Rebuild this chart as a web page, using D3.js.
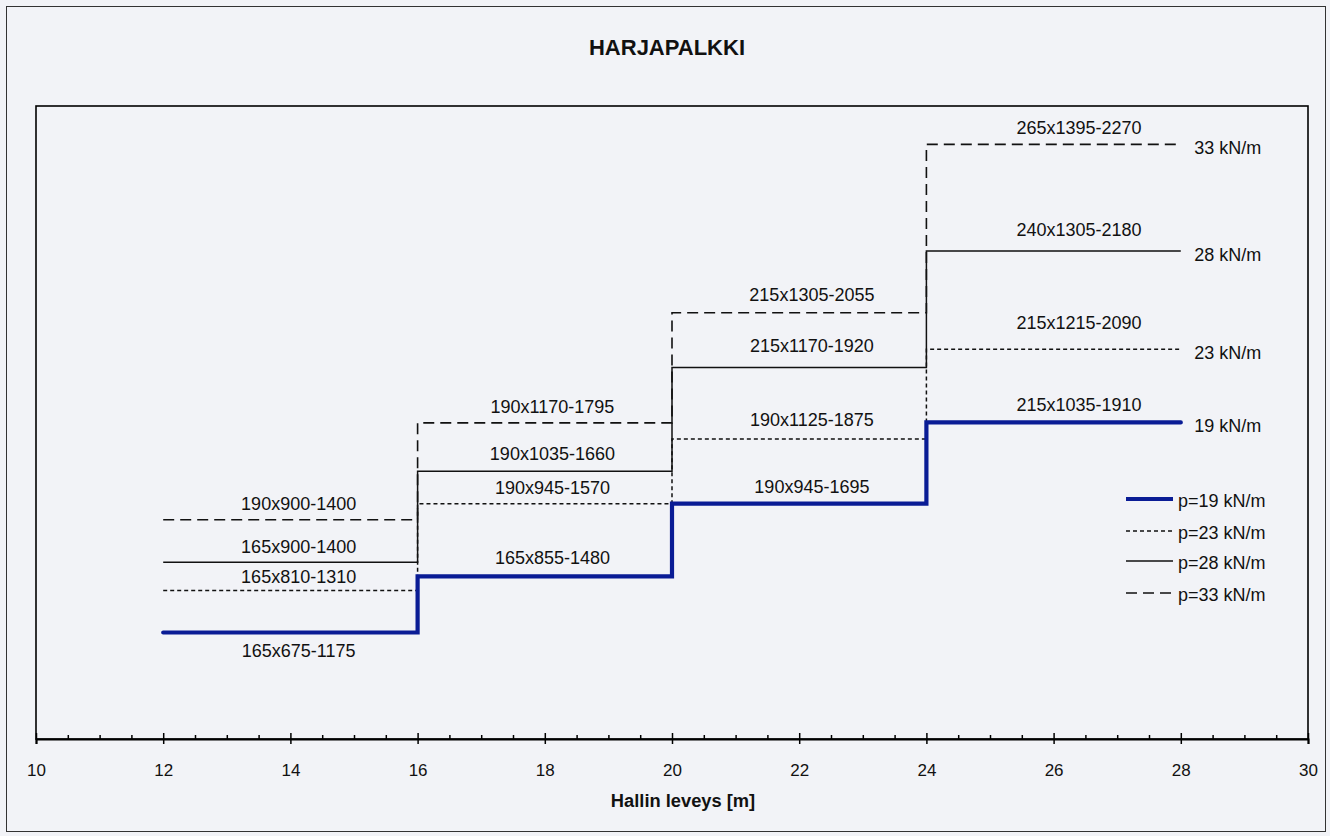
<!DOCTYPE html>
<html>
<head>
<meta charset="utf-8">
<script src="https://cdn.jsdelivr.net/npm/d3@7"></script>
<style>
  body { margin: 0; background: #f2f3f7; }
  svg text { font-family: "Liberation Sans", Arial, sans-serif; fill: #111; }
</style>
</head>
<body>
<div id="chart"></div>
<script>
// span edges on the x axis (m)
const spanEdges = [12, 16, 20, 24, 28];
const xTicks = [10, 12, 14, 16, 18, 20, 22, 24, 26, 28, 30];

// load cases
const loadNames = ["p=19 kN/m", "p=23 kN/m", "p=28 kN/m", "p=33 kN/m"];
const endLabels = ["19 kN/m", "23 kN/m", "28 kN/m", "33 kN/m"];

// section area b x h (mm2) for each span
const p19Values = [111375, 141075, 179550, 222525];
const p23Values = [133650, 179550, 213750, 261225];
const p28Values = [148500, 196650, 251550, 313200];
const p33Values = [171000, 222300, 280575, 369675];

// section labels
const p19Labels = ["165x675-1175", "165x855-1480", "190x945-1695", "215x1035-1910"];
const p23Labels = ["165x810-1310", "190x945-1570", "190x1125-1875", "215x1215-2090"];
const p28Labels = ["165x900-1400", "190x1035-1660", "215x1170-1920", "240x1305-2180"];
const p33Labels = ["190x900-1400", "190x1170-1795", "215x1305-2055", "265x1395-2270"];

// layout
const W = 1330, H = 836;
const plot = { left: 36, right: 1308, top: 106, bottom: 739 };
const labelX = [14.13, 18.12, 22.2, 26.4];
const labelDy = [
    [18, -18.7, -17, -18],
    [-13.4, -16, -19, -27],
    [-16, -17.7, -21.7, -21.7],
    [-16, -15.7, -17.7, -16.7]
];
const styles = [
    { color: "#0a1c95", width: 4.2, dash: null },
    { color: "#111", width: 1.5, dash: "4,3" },
    { color: "#111", width: 1.5, dash: null },
    { color: "#111", width: 1.6, dash: "11,6" }
];

const series = [
    { values: p19Values, labels: p19Labels },
    { values: p23Values, labels: p23Labels },
    { values: p28Values, labels: p28Labels },
    { values: p33Values, labels: p33Labels }
];

const svg = d3.select("#chart").append("svg")
    .attr("width", W)
    .attr("height", H);

svg.append("rect")
    .attr("width", W).attr("height", H)
    .attr("fill", "#f2f3f7");

svg.append("rect")
    .attr("x", 6.5).attr("y", 6.5)
    .attr("width", 1319).attr("height", 825)
    .attr("fill", "none")
    .attr("stroke", "#333")
    .attr("stroke-width", 1);

const xScale = d3.scaleLinear().domain([10, 30]).range([plot.left, plot.right]);
const yScale = d3.scaleLinear().domain([55000, 390000]).range([plot.bottom, plot.top]);

// plot frame
svg.append("rect")
    .attr("x", plot.left).attr("y", plot.top)
    .attr("width", plot.right - plot.left)
    .attr("height", plot.bottom - plot.top)
    .attr("fill", "none")
    .attr("stroke", "#000")
    .attr("stroke-width", 1.6);

// title
svg.append("text")
    .attr("x", 667).attr("y", 47)
    .attr("dy", "0.35em")
    .attr("text-anchor", "middle")
    .style("font-size", "22px")
    .style("font-weight", "bold")
    .text("HARJAPALKKI");

// minor ticks
const minorTicks = d3.range(10, 30.01, 0.5).filter(v => v % 2 !== 0);
svg.append("g")
    .attr("transform", "translate(0," + plot.bottom + ")")
    .call(d3.axisBottom(xScale).tickValues(minorTicks).tickSize(-4).tickFormat(""))
    .call(g => g.select(".domain").remove())
    .call(g => g.selectAll("line").attr("stroke", "#000").attr("stroke-width", 1.5));

// major ticks + labels
const xAxis = svg.append("g")
    .attr("transform", "translate(0," + plot.bottom + ")")
    .call(d3.axisBottom(xScale).tickValues(xTicks).tickSize(5).tickPadding(20).tickFormat(d3.format("d")));
xAxis.select(".domain").attr("stroke", "#000").attr("stroke-width", 2);
xAxis.selectAll(".tick line").attr("y1", -6).attr("stroke", "#000").attr("stroke-width", 1.5);
xAxis.selectAll(".tick text")
    .style("font-size", "17px")
    .style("font-family", "Liberation Sans, Arial, sans-serif")
    .attr("fill", "#111");

// x axis title
svg.append("text")
    .attr("x", 683).attr("y", 801)
    .attr("dy", "0.35em")
    .attr("text-anchor", "middle")
    .style("font-size", "18.3px")
    .style("font-weight", "bold")
    .text("Hallin leveys [m]");

// step lines
const line = d3.line()
    .x(d => xScale(d[0]))
    .y(d => yScale(d[1]));

const drawOrder = [3, 2, 1, 0];
drawOrder.forEach(i => {
    const s = series[i];
    const pts = s.values.flatMap((v, k) => [[spanEdges[k], v], [spanEdges[k + 1], v]]);
    svg.append("path")
        .datum(pts)
        .attr("d", line)
        .attr("fill", "none")
        .attr("stroke", styles[i].color)
        .attr("stroke-width", styles[i].width)
        .attr("stroke-dasharray", styles[i].dash)
        .attr("stroke-linecap", i === 0 ? "round" : "butt");
});

// section labels
series.forEach((s, i) => {
    svg.append("g").selectAll("text")
        .data(s.values)
        .enter().append("text")
        .attr("x", (d, k) => xScale(labelX[k]))
        .attr("y", (d, k) => yScale(d) + labelDy[i][k])
        .attr("dy", "0.35em")
        .attr("text-anchor", "middle")
        .style("font-size", "18px")
        .text((d, k) => s.labels[k]);

    // load label at line end
    const last = s.values[s.values.length - 1];
    svg.append("text")
        .attr("x", xScale(spanEdges[spanEdges.length - 1]) + 13.5)
        .attr("y", yScale(last) + 3.5)
        .attr("dy", "0.35em")
        .style("font-size", "18px")
        .text(endLabels[i]);
});

// legend
const legendRows = [499, 531, 561, 593];
const legend = svg.append("g");
loadNames.forEach((name, i) => {
    legend.append("line")
        .attr("x1", 1126).attr("x2", 1173)
        .attr("y1", legendRows[i]).attr("y2", legendRows[i])
        .attr("stroke", styles[i].color)
        .attr("stroke-width", styles[i].width)
        .attr("stroke-dasharray", styles[i].dash);
    legend.append("text")
        .attr("x", 1178)
        .attr("y", legendRows[i] + 2)
        .attr("dy", "0.35em")
        .style("font-size", "18px")
        .text(name);
});
</script>
</body>
</html>
